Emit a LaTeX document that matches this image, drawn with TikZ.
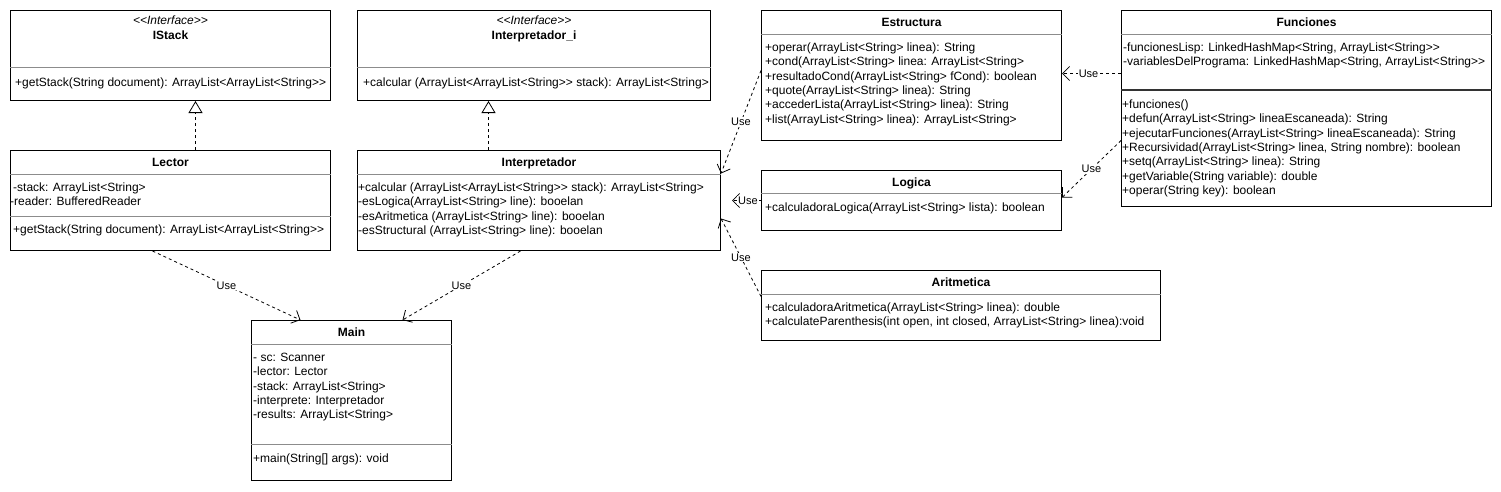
\documentclass[tikz,border=0pt]{standalone}
\usepackage{fontspec}
\setmainfont{Liberation Sans}
\usepackage{tikz}
\usetikzlibrary{arrows.meta}
\usetikzlibrary{calc}
\newcommand\umlclass[5]{%
  \node[classbox,minimum width=#3pt,minimum height=#4pt] (#1) at (#2) {};
  \node[classtitle] at ([yshift=-16pt]#1.north) {#5};
}
\newcommand\umliface[5]{%
  \node[classbox,minimum width=#3pt,minimum height=#4pt] (#1) at (#2) {};
  \node[classstereo] at ([yshift=-14pt]#1.north) {<{}<Interface>{}>};
  \node[classtitle] at ([yshift=-29pt]#1.north) {#5};
}
\newcommand\umlsep[3][classsep]{%
  \draw[#1] ([yshift=-#3pt]#2.north west) -- ([yshift=-#3pt]#2.north east);
}
\newcommand\umlrows[4]{%
  \node[classrows] at ([shift={(#2pt,6pt-#3pt)}]#1.north west) {\strut#4};
}

\begin{document}
\begin{tikzpicture}[x=1pt, y=-1pt,
font=\fontsize{12}{14.4}\selectfont,
classbox/.style={
  draw,
  line width=1pt,
  fill=white,
  inner sep=0pt,
  anchor=north west},
classtitle/.style={font=\fontsize{12}{14.4}\selectfont\bfseries, anchor=base, inner sep=0pt},
classstereo/.style={font=\fontsize{12}{14.4}\selectfont\itshape, anchor=base, inner sep=0pt},
classrows/.style={anchor=north west, align=left, inner sep=0pt},
classsep/.style={draw=black!45, line width=1pt},
thicksep/.style={draw=black!80, line width=1.6pt},
uses/.style={line width=0.8pt, dash pattern=on 3pt off 3pt,
  -{Straight Barb[length=7pt,width=14pt]}},
realize/.style={line width=0.8pt, dash pattern=on 3pt off 3pt,
  -{Triangle[open,length=12pt,width=14pt,fill=white]}},
uselabel/.style={font=\fontsize{11}{13}\selectfont, fill=white, inner sep=1pt}
]
\useasboundingbox (0,0) rectangle (1501,491);

% interfaces
\umliface{istack}{10,10}{320}{90}{IStack}
\umlsep{istack}{57}
\umlrows{istack}{5}{72}{+getStack(String document): ArrayList<ArrayList<String>{}>}

\umliface{interpi}{357,10}{353}{90}{Interpretador\_i}
\umlsep{interpi}{57}
\umlrows{interpi}{6}{72}{+calcular (ArrayList<ArrayList<String>{}> stack): ArrayList<String>}

% classes
\umlclass{lector}{10,150}{320}{100}{Lector}
\umlsep{lector}{24}
\umlrows{lector}{3}{37}{-stack: ArrayList<String>\\\hspace*{-3pt}-reader: BufferedReader}
\umlsep{lector}{66}
\umlrows{lector}{3}{79}{+getStack(String document): ArrayList<ArrayList<String>{}>}

\umlclass{interp}{357,150}{363}{100}{Interpretador}
\umlsep{interp}{24}
\umlrows{interp}{1}{37}{+calcular (ArrayList<ArrayList<String>{}> stack): ArrayList<String>\\
-esLogica(ArrayList<String> line): booelan\\
-esAritmetica (ArrayList<String> line): booelan\\
-esStructural (ArrayList<String> line): booelan}

\umlclass{estructura}{761,10}{300}{130}{Estructura}
\umlsep{estructura}{24}
\umlrows{estructura}{4}{37}{+operar(ArrayList<String> linea): String\\
+cond(ArrayList<String> linea: ArrayList<String>\\
+resultadoCond(ArrayList<String> fCond): boolean\\
+quote(ArrayList<String> linea): String\\
+accederLista(ArrayList<String> linea): String\\
+list(ArrayList<String> linea): ArrayList<String>}

\umlclass{logica}{761,170}{300}{60}{Logica}
\umlsep{logica}{23}
\umlrows{logica}{4}{37}{+calculadoraLogica(ArrayList<String> lista): boolean}

\umlclass{aritmetica}{761,270}{399}{70}{Aritmetica}
\umlsep{aritmetica}{24}
\umlrows{aritmetica}{4}{37}{+calculadoraAritmetica(ArrayList<String> linea): double\\
+calculateParenthesis(int open, int closed, ArrayList<String> linea):void}

\umlclass{funciones}{1121,10}{370}{196}{Funciones}
\umlsep{funciones}{24}
\umlrows{funciones}{2}{37}{-funcionesLisp: LinkedHashMap<String, ArrayList<String>{}>\\
-variablesDelPrograma: LinkedHashMap<String, ArrayList<String>{}>}
\umlsep[thicksep]{funciones}{80}
\umlrows{funciones}{1}{94}{+funciones()\\
+defun(ArrayList<String> lineaEscaneada): String\\
+ejecutarFunciones(ArrayList<String> lineaEscaneada): String\\
+Recursividad(ArrayList<String> linea, String nombre): boolean\\
+setq(ArrayList<String> linea): String\\
+getVariable(String variable): double\\
+operar(String key): boolean}

\umlclass{main}{251,320}{200}{160}{Main}
\umlsep{main}{24}
\umlrows{main}{2}{37}{- sc: Scanner\\-lector: Lector\\-stack: ArrayList<String>\\
-interprete: Interpretador\\-results: ArrayList<String>}
\umlsep{main}{124}
\umlrows{main}{2}{138}{+main(String[] args): void}

% realizations
\draw[realize] ([xshift=25pt]lector.north) -- ([xshift=25pt]istack.south);
\draw[realize] ([xshift=-50.5pt]interp.north) -- ([xshift=-45.5pt]interpi.south);

% dependencies
\draw[uses] ([xshift=-18pt]lector.south) -- node[uselabel] {Use} ([xshift=-51pt]main.north);
\draw[uses] ([xshift=-18.5pt]interp.south) -- node[uselabel] {Use} ([xshift=51pt]main.north);
\draw[uses] ([yshift=5pt]estructura.west) -- node[uselabel] {Use} ([yshift=27pt]interp.east);
\draw[uses] (logica.west) -- node[uselabel, pos=0.45] {Use} ([xshift=11pt]interp.east);
\draw[uses] ([yshift=9pt]aritmetica.west) -- node[uselabel] {Use} ([yshift=-18pt]interp.east);
\draw[uses] ([yshift=35pt]funciones.west) -- node[uselabel, pos=0.55] {Use} ([yshift=2pt]estructura.east);
\draw[uses] ([yshift=-32pt]funciones.west) -- node[uselabel] {Use} ([yshift=3pt]logica.east);

\end{tikzpicture}
\end{document}
